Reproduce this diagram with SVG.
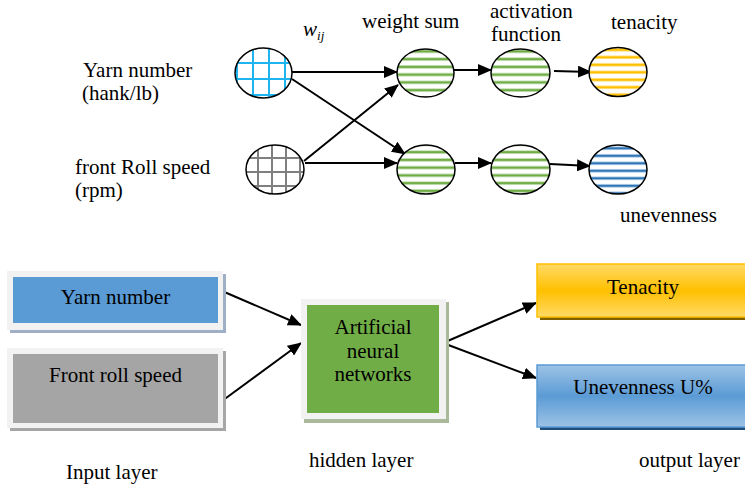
<svg xmlns="http://www.w3.org/2000/svg" width="745" height="489" viewBox="0 0 745 489">
<style>
text{font-family:"Liberation Serif","Times New Roman",serif;font-size:21px;fill:#000}
.mid{text-anchor:middle}
.node{stroke:#000;stroke-width:1.5}
.conn{stroke:#000;stroke-width:2;fill:none;marker-end:url(#ah)}
</style>
<defs>
<marker id="ah" markerUnits="userSpaceOnUse" markerWidth="14" markerHeight="12" viewBox="0 0 14 12" refX="13" refY="6" orient="auto">
<path d="M0,0 L14,6 L0,12 Z" fill="#000"/>
</marker>
<pattern id="gridBlue" patternUnits="userSpaceOnUse" x="5" y="7" width="16" height="16">
<rect width="16" height="16" fill="#fff"/>
<path d="M8,0V16M0,8H16" stroke="#1EB4F0" stroke-width="2"/>
</pattern>
<pattern id="gridGray" patternUnits="userSpaceOnUse" x="13" y="11" width="14" height="14">
<rect width="14" height="14" fill="#fff"/>
<path d="M7,0V14M0,7H14" stroke="#7F7F7F" stroke-width="2"/>
</pattern>
<pattern id="stGreen" patternUnits="userSpaceOnUse" x="0" y="1" width="10" height="7.75">
<rect width="10" height="7.75" fill="#fff"/>
<rect y="2.2" width="10" height="3.4" fill="#C5DFB4"/>
<rect y="2.8" width="10" height="2.2" fill="#70AD47"/>
</pattern>
<pattern id="stYellow" patternUnits="userSpaceOnUse" x="0" y="1" width="10" height="7.5">
<rect width="10" height="7.5" fill="#fff"/>
<rect y="2.1" width="10" height="3.4" fill="#FFE699"/>
<rect y="2.7" width="10" height="2.2" fill="#FFC000"/>
</pattern>
<pattern id="stBlue" patternUnits="userSpaceOnUse" x="0" y="2" width="10" height="7.5">
<rect width="10" height="7.5" fill="#fff"/>
<rect y="2.1" width="10" height="3.4" fill="#BDD7EE"/>
<rect y="2.7" width="10" height="2.2" fill="#2E75B6"/>
</pattern>
<linearGradient id="gYellow" x1="0" y1="0" x2="0" y2="1">
<stop offset="0" stop-color="#FFD966"/>
<stop offset="0.5" stop-color="#FFC000"/>
<stop offset="1" stop-color="#FFD966"/>
</linearGradient>
<linearGradient id="gBlue" x1="0" y1="0" x2="0" y2="1">
<stop offset="0" stop-color="#9DC3E6"/>
<stop offset="0.5" stop-color="#5B9BD5"/>
<stop offset="1" stop-color="#9DC3E6"/>
</linearGradient>
</defs>

<!-- top labels -->
<g id="top-labels">
<text x="83" y="77">Yarn number</text>
<text x="82" y="100">(hank/lb)</text>
<text x="75" y="174">front Roll speed</text>
<text x="75" y="197">(rpm)</text>
<text x="303" y="36" font-style="italic">w<tspan font-size="13" dy="4">ij</tspan></text>
<text x="362" y="28">weight sum</text>
<text x="490" y="18" font-size="20">activation</text>
<text x="491" y="41" font-size="20">function</text>
<text x="611" y="29">tenacity</text>
<text x="620" y="222">unevenness</text>
</g>

<!-- connectors -->
<g id="connectors">
<line class="conn" x1="292" y1="72" x2="397" y2="72"/>
<line class="conn" x1="292" y1="79" x2="405" y2="154"/>
<line class="conn" x1="304" y1="161" x2="398" y2="85"/>
<line class="conn" x1="305" y1="163" x2="397" y2="163"/>
<line class="conn" x1="454" y1="70" x2="491" y2="70"/>
<line class="conn" x1="554" y1="71" x2="591" y2="72"/>
<line class="conn" x1="455" y1="163" x2="491" y2="163"/>
<line class="conn" x1="550" y1="164" x2="590" y2="166"/>
<line class="conn" x1="222" y1="291" x2="301" y2="325"/>
<line class="conn" x1="222" y1="401" x2="301" y2="343"/>
<line class="conn" x1="443" y1="343" x2="536" y2="303"/>
<line class="conn" x1="443" y1="343" x2="536" y2="378"/>
</g>

<!-- top nodes -->
<g id="in-yarn"><ellipse class="node" cx="263.5" cy="73" rx="28.5" ry="25" fill="url(#gridBlue)"/></g>
<g id="in-roll"><ellipse class="node" cx="275" cy="169.5" rx="29" ry="24.5" fill="url(#gridGray)"/></g>
<g id="ws1"><ellipse class="node" cx="425.5" cy="73" rx="28.5" ry="24" fill="url(#stGreen)"/></g>
<g id="act1"><ellipse class="node" cx="520.5" cy="73" rx="29.5" ry="24" fill="url(#stGreen)"/></g>
<g id="out-ten"><ellipse class="node" cx="618" cy="72" rx="29" ry="24.5" fill="url(#stYellow)"/></g>
<g id="ws2"><ellipse class="node" cx="426" cy="169.5" rx="29" ry="24.5" fill="url(#stGreen)"/></g>
<g id="act2"><ellipse class="node" cx="520.5" cy="169.5" rx="29.5" ry="24.5" fill="url(#stGreen)"/></g>
<g id="out-unev"><ellipse class="node" cx="618" cy="169.5" rx="29" ry="24.5" fill="url(#stBlue)"/></g>

<!-- bottom nodes -->
<g id="box-yarn">
<rect x="10" y="274" width="216" height="59" fill="#9FAFC6"/>
<rect x="7" y="271" width="216" height="59" fill="#F2F2F2"/>
<rect x="13" y="277" width="205" height="46" fill="#5B9BD5"/>
<text class="mid" x="115.5" y="304">Yarn number</text>
</g>
<g id="box-roll">
<rect x="10" y="351" width="216" height="80" fill="#A6A6A6"/>
<rect x="7" y="348" width="216" height="80" fill="#F2F2F2"/>
<rect x="13" y="354" width="205" height="69" fill="#A5A5A5"/>
<text class="mid" x="115.5" y="382">Front roll speed</text>
</g>
<g id="box-ann">
<rect x="304" y="302" width="145" height="121" fill="#A9B99A"/>
<rect x="301" y="299" width="145" height="120" fill="#F2F2F2"/>
<rect x="307" y="305" width="132" height="108" fill="#70AD47"/>
<text class="mid" x="373" y="334">Artificial</text>
<text class="mid" x="373" y="358">neural</text>
<text class="mid" x="373" y="381">networks</text>
</g>
<g id="box-tenacity">
<rect x="540" y="267" width="210" height="53" fill="#7F6000"/>
<rect x="537" y="264" width="212" height="53" fill="url(#gYellow)" stroke="#FFC000" stroke-width="1.5"/>
<text class="mid" x="643" y="294">Tenacity</text>
</g>
<g id="box-unev">
<rect x="540" y="368" width="210" height="62" fill="#1F4E79"/>
<rect x="537" y="365" width="212" height="62" fill="url(#gBlue)" stroke="#5B9BD5" stroke-width="1.5"/>
<text class="mid" x="643" y="394">Unevenness U%</text>
</g>

<g id="layer-labels">
<text x="66" y="479">Input layer</text>
<text x="309" y="467">hidden layer</text>
<text x="639" y="467">output layer</text>
</g>
</svg>
